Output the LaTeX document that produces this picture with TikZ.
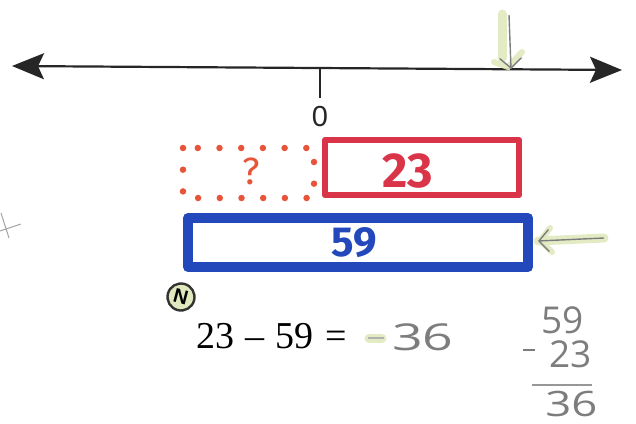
\documentclass[tikz,border=0pt]{standalone}
\usepackage{fontspec}
\setmainfont{Liberation Serif}
\setsansfont{Liberation Sans}
\newfontfamily\markfont{Fira Sans}
\newfontfamily\pencilfont{Open Sans}
\usetikzlibrary{arrows.meta}
\definecolor{tapered}{RGB}{218,52,72}
\definecolor{dotred}{RGB}{232,84,58}
\definecolor{tapeblue}{RGB}{34,72,188}
\definecolor{hilite}{RGB}{224,233,190}
\definecolor{pencil}{RGB}{125,125,125}
\tikzset{
  numline/.style={line width=2.2pt, black!85, {Stealth[length=32pt,width=26pt,inset=6pt]}-{Stealth[length=32pt,width=26pt,inset=6pt]}},
  redbox/.style={draw=tapered, line width=6.5pt, line join=round},
  bluebox/.style={draw=tapeblue, line width=10pt, line join=round},
  dotbox/.style={draw=dotred, line width=6.5pt, line cap=round, dash pattern=on 0pt off 21.7pt},
  penarrow/.style={draw=pencil, line width=1.4pt, -{Straight Barb[length=10pt,width=22pt]}},
  hl/.style={draw=hilite, line width=9pt, line cap=round, opacity=0.9},
  penline/.style={draw=pencil!70, line width=1pt},
  handtxt/.style={text=pencil, inner sep=0pt, anchor=base west, font=\pencilfont\fontsize{37}{37}\selectfont},
}
\begin{document}
\begin{tikzpicture}[x=1pt,y=-1pt]
\useasboundingbox (0,0) rectangle (636,423);
% number line
\coordinate (L) at (12,66);
\coordinate (R) at (622,70);
\draw[numline] (L) -- (R);
\coordinate (zt) at (320,67);
\coordinate (zb) at (320,98);
\draw[line width=2pt, black!85] (zt) -- (zb);
\node[font=\sffamily\fontsize{29}{29}\selectfont, text=black!85, inner sep=0pt] (zero) at (320,117) {0};
% top pencil arrow with highlight
\coordinate (h1) at (502,14);
\coordinate (h2) at (502,58);
\draw[hl] (h1) -- (h2);
\draw[hl, line width=6pt] (494,62) -- (508,67) -- (522,52);
\coordinate (ta) at (509,15);
\coordinate (tb) at (511,69);
\draw[penarrow] (ta) -- (tb);
% dotted box
\draw[dotbox] (183,148) rectangle (314,198);
\node[text=dotred, font=\markfont\fontsize{38}{38}\selectfont, inner sep=0pt] (q) at (251,171) {?};
% red box
\node[redbox, minimum width=194pt, minimum height=55pt, inner sep=0pt] (red) at (422,167.5) {};
\node[text=tapered, font=\markfont\bfseries\fontsize{49}{49}\selectfont, anchor=base, inner sep=0pt] (twentythree) at (408,187) {23};
% blue box
\node[bluebox, minimum width=340pt, minimum height=49pt, inner sep=0pt] (blue) at (358,242.5) {};
\node[text=tapeblue, font=\markfont\bfseries\fontsize{42}{42}\selectfont, anchor=base, inner sep=0pt] (fiftynine) at (354,256) {59};
% right pencil arrow with highlight
\coordinate (r1) at (604,238);
\coordinate (r2) at (538,241);
\draw[hl] (r1) -- (r2);
\draw[hl, line width=6pt] (550,228) -- (540,241) -- (552,252);
\draw[penarrow] (r1) -- (r2);
% left pencil mark
\draw[penline] (1,213) -- (9,238) (0,231) -- (21,224);
% circled N
\node[draw=black!80, line width=2.4pt, circle, fill=hilite, minimum size=27pt, inner sep=0pt,
      font=\sffamily\bfseries\fontsize{20}{20}\selectfont, rotate=-15] (badge) at (181,297) {N};
% equation
\node[anchor=base west, inner sep=0pt, font=\fontsize{38}{38}\selectfont] (eq) at (196,348) {23\hspace{11pt}–\hspace{11pt}59\hspace{12pt}=};
\draw[hl, line width=9pt] (369,338) -- (382,338);
\coordinate (dash1) at (368,338);
\coordinate (dash2) at (384,338);
\draw[draw=pencil!60, line width=1.2pt] (dash1) -- (dash2);
\node[handtxt, xscale=1.45] (ans) at (392,350) {36};
% column subtraction
\node[handtxt] (c1) at (541,333) {59};
\node[handtxt] (c2) at (549,367) {23};
\coordinate (m1) at (523,350);
\coordinate (m2) at (535,350);
\draw[draw=pencil, line width=1.6pt] (m1) -- (m2);
\coordinate (ul) at (532,385);
\coordinate (ur) at (592,385);
\draw[draw=pencil!80, line width=1.4pt] (ul) -- (ur);
\node[handtxt, xscale=1.3, font=\pencilfont\fontsize{35}{35}\selectfont] (c3) at (545,416) {36};
\end{tikzpicture}
\end{document}
